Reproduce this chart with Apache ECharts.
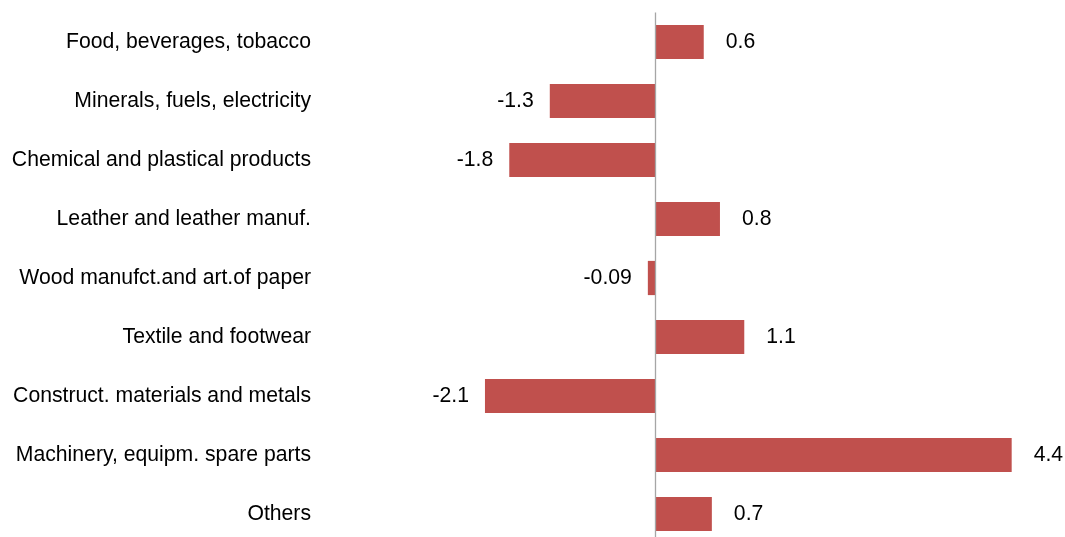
<!DOCTYPE html>
<html>
<head>
<meta charset="utf-8">
<script src="https://cdn.jsdelivr.net/npm/echarts@6/dist/echarts.min.js"></script>
<style>html,body{margin:0;padding:0;background:#fff;overflow:hidden}#c{width:1065px;height:544px}</style>
</head>
<body>
<div id="c"></div>
<script>
const categories = [
  "Food, beverages, tobacco",
  "Minerals, fuels, electricity",
  "Chemical and plastical products",
  "Leather and leather manuf.",
  "Wood manufct.and art.of paper",
  "Textile and footwear",
  "Construct. materials and metals",
  "Machinery, equipm. spare parts",
  "Others"
];
const values = [0.6, -1.3, -1.8, 0.8, -0.09, 1.1, -2.1, 4.4, 0.7];

const chart = echarts.init(document.getElementById('c'));
chart.setOption({
  animation: false,
  grid: { left: 331, right: 4.7, top: 12.5, bottom: 0.5, containLabel: false },
  xAxis: {
    type: 'value', min: -4, max: 5,
    axisLine: { show: false }, axisTick: { show: false },
    axisLabel: { show: false }, splitLine: { show: false }
  },
  yAxis: {
    type: 'category', data: categories, inverse: true,
    axisLine: { show: false }, axisTick: { show: false },
    axisLabel: { margin: 20, color: '#000', fontFamily: 'Liberation Sans', fontSize: 21.2 }
  },
  series: [{
    type: 'bar',
    barCategoryGap: '42%',
    itemStyle: { color: '#C0504D' },
    data: values.map(v => ({
      value: v,
      label: {
        show: true,
        position: v < 0 ? 'left' : 'right',
        distance: v < 0 ? 16 : 22,
        color: '#000', fontFamily: 'Liberation Sans', fontSize: 21.2,
        formatter: String(v)
      }
    })),
    markLine: {
      silent: true, symbol: 'none', label: { show: false },
      lineStyle: { color: '#A6A6A6', width: 1.3, type: 'solid' },
      data: [{ xAxis: 0 }]
    }
  }]
});
</script>
</body>
</html>
